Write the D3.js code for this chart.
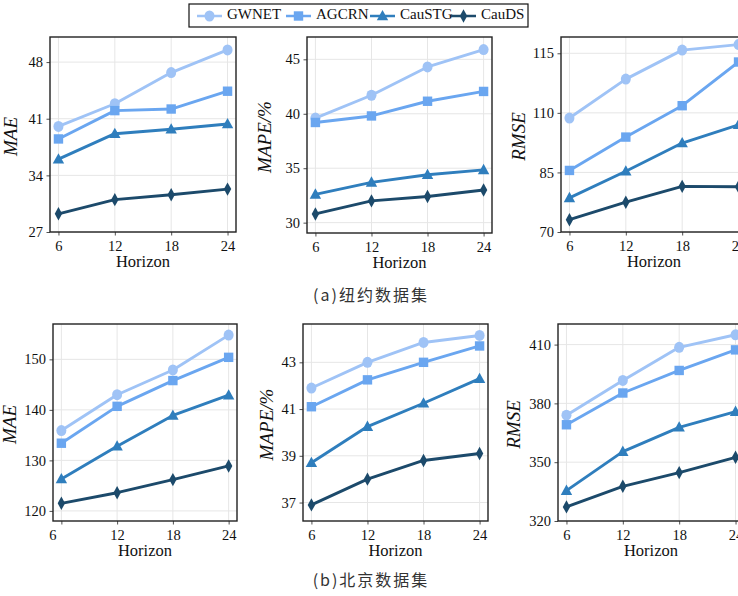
<!DOCTYPE html>
<html><head><meta charset="utf-8">
<script src="https://cdn.jsdelivr.net/npm/d3@7"></script>
<style>body{margin:0;background:#fff} svg{display:block}</style>
</head><body><svg id="c" width="738" height="596"></svg>
<script>
// ---- data ----
const horizons = [6, 12, 18, 24];
const models = ["GWNET", "AGCRN", "CauSTG", "CauDS"];
// rows follow models order
const nyMAE  = [[40.05, 42.85, 46.7, 49.5], [38.5, 42.0, 42.2, 44.4], [36.0, 39.15, 39.7, 40.35], [29.25, 31.0, 31.6, 32.3]];
const nyMAPE = [[39.6, 41.7, 44.3, 45.9], [39.2, 39.8, 41.15, 42.05], [32.6, 33.7, 34.4, 34.85], [30.8, 32.0, 32.4, 33.0]];
const nyRMSE = [[98.7, 108.5, 115.8, 117.2], [85.5, 93.9, 101.8, 112.8], [78.6, 85.3, 92.4, 97.0], [73.1, 77.5, 81.5, 81.4]];
const bjMAE  = [[135.9, 143.0, 147.9, 154.8], [133.4, 140.7, 145.8, 150.4], [126.3, 132.8, 138.9, 142.9], [121.5, 123.6, 126.2, 128.9]];
const bjMAPE = [[41.9, 43.0, 43.85, 44.15], [41.1, 42.25, 43.0, 43.7], [38.7, 40.25, 41.25, 42.3], [36.9, 38.0, 38.8, 39.1]];
const bjRMSE = [[374.0, 391.7, 408.6, 415.0], [369.1, 385.3, 396.8, 407.3], [335.5, 355.4, 367.8, 375.8], [327.2, 337.7, 344.7, 352.5]];
// tick values and labels
const nyMAETicks = [27, 34, 41, 48];
const nyMAPETicks = [30, 35, 40, 45];
const nyRMSETicks = [70, 85, 100, 115];
const nyRMSELabels = ["70", "85", "110", "115"];
const bjMAETicks = [120, 130, 140, 150];
const bjMAPETicks = [37, 39, 41, 43];
const bjRMSETicks = [320, 350, 380, 410];
const captions = ["(a)纽约数据集", "(b)北京数据集"];

// ---- style ----
const colors = ["#9fc3f6", "#6aa6f0", "#2f7ebd", "#1c4a6b"];
const serif = "'Liberation Serif','DejaVu Serif',serif";
const svg = d3.select("#c");

const panels = [
  {data: nyMAE, ticks: nyMAETicks, labels: null, ylab: "MAE", x0: 50, y0: 37, w: 186, h: 195, dom: [27, 51.1], ylx: -37},
  {data: nyMAPE, ticks: nyMAPETicks, labels: null, ylab: "MAPE/%", x0: 307, y0: 37, w: 185, h: 196, dom: [29.05, 47.05], ylx: -40},
  {data: nyRMSE, ticks: nyRMSETicks, labels: nyRMSELabels, ylab: "RMSE", x0: 561, y0: 37, w: 186, h: 195, dom: [70, 119.1], ylx: -40},
  {data: bjMAE, ticks: bjMAETicks, labels: null, ylab: "MAE", x0: 53, y0: 324, w: 184, h: 197, dom: [118, 157], ylx: -41, shift6: -9},
  {data: bjMAPE, ticks: bjMAPETicks, labels: null, ylab: "MAPE/%", x0: 303, y0: 324, w: 185, h: 197, dom: [36.21, 44.64], ylx: -34},
  {data: bjRMSE, ticks: bjRMSETicks, labels: null, ylab: "RMSE", x0: 558, y0: 324, w: 186, h: 197, dom: [320, 420.5], ylx: -42}
];

function marker(g, i, x, y, c) {
  if (i === 0) {
    g.append("ellipse").attr("cx", x).attr("cy", y).attr("rx", 5).attr("ry", 5.5).attr("fill", c);
  } else if (i === 1) {
    g.append("rect").attr("x", x - 4.7).attr("y", y - 4.7).attr("width", 9.4).attr("height", 9.4).attr("fill", c);
  } else if (i === 2) {
    g.append("path").attr("d", `M${x},${y - 6}L${x + 5.7},${y + 4.3}L${x - 5.7},${y + 4.3}Z`).attr("fill", c);
  } else {
    g.append("path").attr("d", `M${x},${y - 6.7}L${x + 3.7},${y}L${x},${y + 6.7}L${x - 3.7},${y}Z`).attr("fill", c);
  }
}

panels.forEach(p => {
  const g = svg.append("g").attr("transform", `translate(${p.x0},${p.y0})`);
  const x = d3.scaleLinear().domain([5.1, 24.9]).range([0, p.w]);
  const y = d3.scaleLinear().domain(p.dom).range([p.h, 0]);
  // grid
  g.selectAll(".gx").data(horizons).enter().append("line")
    .attr("x1", d => x(d)).attr("x2", d => x(d)).attr("y1", 0).attr("y2", p.h)
    .attr("stroke", "#e6e6e6").attr("stroke-width", 1);
  g.selectAll(".gy").data(p.ticks).enter().append("line")
    .attr("y1", d => y(d)).attr("y2", d => y(d)).attr("x1", 0).attr("x2", p.w)
    .attr("stroke", "#e6e6e6").attr("stroke-width", 1);
  // axes
  const xa = g.append("g").attr("transform", `translate(0,${p.h})`)
    .call(d3.axisBottom(x).tickValues(horizons).tickSize(3.5).tickPadding(5));
  const ya = g.append("g")
    .call(d3.axisLeft(y).tickValues(p.ticks).tickSize(3.5).tickPadding(3.5)
      .tickFormat((d, i) => p.labels ? p.labels[i] : d));
  [xa, ya].forEach(a => {
    a.select(".domain").remove();
    a.selectAll("line").attr("stroke", "#222").attr("stroke-width", 0.8);
    a.selectAll("text").attr("font-family", serif).attr("font-size", 14.5).attr("fill", "#111");
  });
  if (p.shift6) xa.selectAll("text").filter(d => d === 6).attr("dx", p.shift6);
  // frame
  g.append("rect").attr("x", 0).attr("y", 0).attr("width", p.w).attr("height", p.h)
    .attr("fill", "none").attr("stroke", "#222").attr("stroke-width", 1.4);
  // series
  const line = d3.line().x((d, j) => x(horizons[j])).y(d => y(d));
  p.data.forEach((vals, i) => {
    const sg = g.append("g");
    sg.append("path").attr("d", line(vals)).attr("fill", "none")
      .attr("stroke", colors[i]).attr("stroke-width", 2.9).attr("stroke-linejoin", "round");
    vals.forEach((v, j) => marker(sg, i, x(horizons[j]), y(v), colors[i]));
  });
  // labels
  g.append("text").attr("x", p.w / 2).attr("y", p.h + 31).attr("text-anchor", "middle")
    .attr("dominant-baseline", "middle").attr("font-family", serif).attr("font-size", 16.5)
    .attr("fill", "#111").text("Horizon");
  g.append("text").attr("transform", `translate(${p.ylx},${p.h / 2 + 2}) rotate(-90)`)
    .attr("text-anchor", "middle").attr("dominant-baseline", "middle")
    .attr("font-family", serif).attr("font-style", "italic").attr("font-size", 19)
    .attr("fill", "#111").text(p.ylab);
});

// captions
[[371, 297], [371, 582]].forEach((pos, i) => {
  svg.append("text").attr("x", pos[0]).attr("y", pos[1]).attr("text-anchor", "middle")
    .attr("dominant-baseline", "middle").attr("font-family", "'Noto Sans CJK SC',sans-serif")
    .attr("font-size", 16).attr("letter-spacing", 2).attr("fill", "#333").text(captions[i]);
});

// legend
const lg = svg.append("g");
lg.append("rect").attr("x", 189).attr("y", 4).attr("width", 339).attr("height", 23)
  .attr("fill", "#fff").attr("stroke", "#111").attr("stroke-width", 1.2);
const lx = [197, 286, 370, 451];
models.forEach((m, i) => {
  lg.append("line").attr("x1", lx[i]).attr("x2", lx[i] + 25).attr("y1", 16).attr("y2", 16)
    .attr("stroke", colors[i]).attr("stroke-width", 2.5);
  marker(lg, i, lx[i] + 12.5, 16, colors[i]);
  lg.append("text").attr("x", lx[i] + 30).attr("y", 16).attr("dominant-baseline", "middle")
    .attr("font-family", serif).attr("font-size", 15).attr("fill", "#111").text(m);
});
</script></body></html>
